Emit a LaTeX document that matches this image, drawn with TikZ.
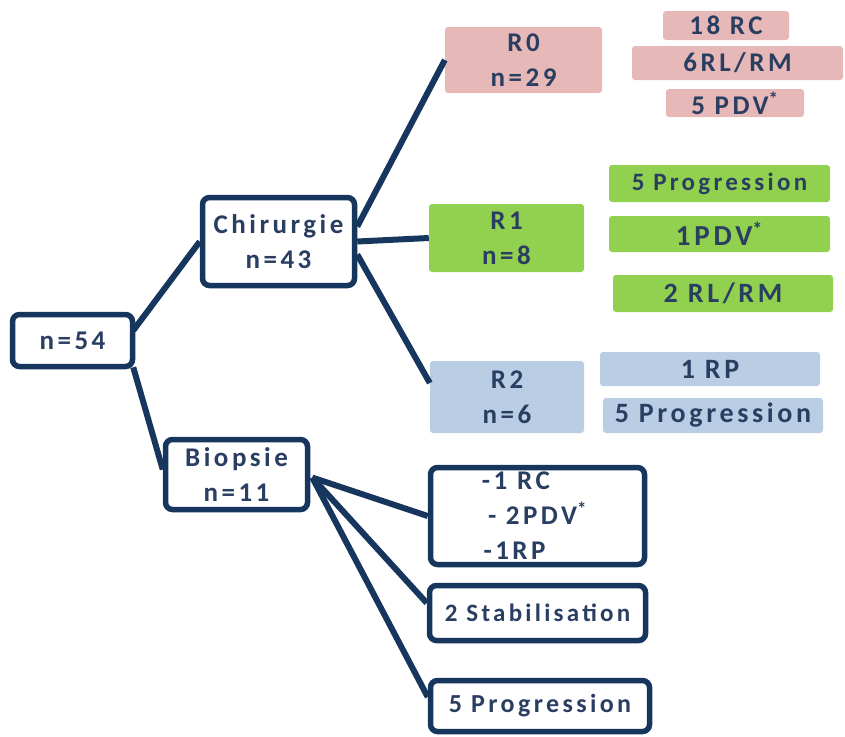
\documentclass[tikz,border=0pt]{standalone}
\usepackage{fontspec}
\setmainfont{Carlito}
\newfontfamily\boxfont[LetterSpace=13]{Carlito}
\usepackage{xcolor}
\definecolor{navy}{RGB}{23,54,93}
\definecolor{txt}{RGB}{42,62,98}
\definecolor{pinkbox}{RGB}{230,185,184}
\definecolor{greenbox}{RGB}{146,208,80}
\definecolor{bluebox}{RGB}{185,205,229}
\usetikzlibrary{calc}
\tikzstyle{outbox} = [draw=navy, line width=5.5pt, rounded corners=7pt, fill=white]
\tikzstyle{pinkcell} = [fill=pinkbox, rounded corners=3pt]
\tikzstyle{greencell} = [fill=greenbox, rounded corners=3pt]
\tikzstyle{bluecell} = [fill=bluebox, rounded corners=3pt]
\tikzstyle{link} = [draw=navy, line width=6pt]

\begin{document}
\begin{tikzpicture}[x=1pt, y=-1pt,
    every node/.style={font=\boxfont\bfseries\fontsize{27}{35}\selectfont,
      text=txt, align=center, inner sep=0pt}]
    \useasboundingbox (0,0) rectangle (845,736);

    % main tree
    \node[outbox, minimum width=120pt, minimum height=52pt] (n54) at (72.5,340.5) {n=54};
    \node[outbox, minimum width=152pt, minimum height=88pt] (chir) at (278.5,241.5)
    {Chirurgie\\n=43};
    \node[outbox, minimum width=142pt, minimum height=70pt] (biop) at (236.5,474.5)
    {Biopsie\\n=11};

    % resection classes
    \node[pinkcell, minimum width=157pt, minimum height=66pt] (r0) at (523.5,60) {R0\\n=29};
    \node[greencell, minimum width=155pt, minimum height=68pt] (r1) at (506.5,238) {R1\\n=8};
    \node[bluecell, minimum width=154pt, minimum height=72pt] (r2) at (507,397) {R2\\n=6};

    % outcomes R0
    \node[pinkcell, minimum width=126pt, minimum height=29pt] (rc18) at (726,25.5) {18 RC};
    \node[pinkcell, minimum width=211pt, minimum height=34pt] (rl6) at (737.5,63) {6RL/RM};
    \node[pinkcell, minimum width=138pt, minimum height=28pt] (pdv5) at (735,103)
    {5 PDV\textsuperscript{*}};

    % outcomes R1
    \node[greencell, minimum width=221pt, minimum height=37pt] (prg5g) at (719.5,183.5)
    {\fontsize{25}{30}\selectfont 5 Progression};
    \node[greencell, minimum width=221pt, minimum height=36pt] (pdv1) at (719.5,234)
    {\fontsize{29}{30}\selectfont 1PDV\textsuperscript{*}};
    \node[greencell, minimum width=220pt, minimum height=37pt] (rl2) at (723,293.5)
    {\fontsize{28}{30}\selectfont 2 RL/RM};

    % outcomes R2
    \node[bluecell, minimum width=220pt, minimum height=34pt] (rp1) at (710,369)
    {\fontsize{28}{30}\selectfont 1 RP};
    \node[bluecell, minimum width=220pt, minimum height=35pt] (prg5b) at (713,415.5)
    {\fontsize{28}{30}\selectfont 5 Progression};

    % outcomes biopsy
    \node[outbox, minimum width=214pt, minimum height=97pt] (bio1) at (537.5,516)
    {-1 RC\hspace{1.6em}\mbox{}\\- 2PDV\textsuperscript{*}\\-1RP\hspace{1.7em}\mbox{}};
    \node[outbox, minimum width=216pt, minimum height=55pt] (stab) at (537.5,613)
    {\fontsize{25}{30}\selectfont 2 Stabilisation};
    \node[outbox, minimum width=219pt, minimum height=51pt] (prg5) at (540,706)
    {\fontsize{26}{30}\selectfont 5 Progression};

    % links
    \draw[link] ($(n54.east)+(-2,-10)$) -- (chir.west);
    \draw[link] ($(n54.south east)+(-2,-2)$) -- ($(biop.west)+(0,-5)$);
    \draw[link] ($(chir.east)+(0,-15)$) -- (r0.west);
    \draw[link] (chir.east) -- (r1.west);
    \draw[link] ($(chir.east)+(0,13)$) -- ($(r2.west)+(0,-14)$);
    \draw[link] ($(biop.east)+(2,3)$) -- (bio1.west);
    \draw[link] ($(biop.east)+(2,3)$) -- ($(stab.west)+(0,-10)$);
    \draw[link] ($(biop.east)+(2,3)$) -- ($(prg5.west)+(0,-9)$);
\end{tikzpicture}
\end{document}
